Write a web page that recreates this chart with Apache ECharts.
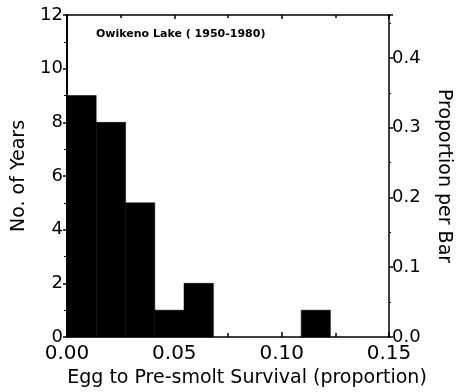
<!DOCTYPE html>
<html>
<head>
<meta charset="utf-8">
<script src="https://cdn.jsdelivr.net/npm/echarts@6/dist/echarts.min.js"></script>
<style>
html,body{margin:0;padding:0;background:#fff;}
#chart{width:456px;height:392px;}
</style>
</head>
<body>
<div id="chart"></div>
<script>
// Histogram bins (egg to pre-smolt survival, proportion)
var binStart = [0.0000, 0.0136, 0.0273, 0.0409, 0.0545, 0.0682, 0.0818, 0.0955, 0.1091];
var binEnd   = [0.0136, 0.0273, 0.0409, 0.0545, 0.0682, 0.0818, 0.0955, 0.1091, 0.1227];
var counts   = [9, 8, 5, 1, 2, 0, 0, 0, 1];
var totalYears = 26;
var xTicks = [0.00, 0.05, 0.10, 0.15];
var countTicks = [0, 2, 4, 6, 8, 10, 12];
var propTicks = [0.0, 0.1, 0.2, 0.3, 0.4];

var FONT = 'DejaVu Sans';
var data = binStart.map(function (s, i) { return [s, binEnd[i], counts[i]]; })
  .filter(function (d) { return d[2] > 0; });

var chart = echarts.init(document.getElementById('chart'), null, {renderer: 'canvas'});
var lineStyle = {color: '#000', width: 1.5};
chart.setOption({
  backgroundColor: '#fff',
  animation: false,
  title: {
    text: 'Owikeno Lake ( 1950-1980)',
    left: 91, top: 24,
    textStyle: {fontFamily: FONT, fontSize: 11, fontWeight: 'bold', color: '#000'}
  },
  grid: {left: 67, right: 67, top: 15, bottom: 55, containLabel: false, outerBoundsMode: 'none'},
  xAxis: [{
    type: 'value', min: xTicks[0], max: xTicks[xTicks.length - 1], interval: 0.05,
    position: 'bottom',
    name: 'Egg to Pre-smolt Survival (proportion)', nameLocation: 'middle', nameGap: 27,
    nameTextStyle: {fontFamily: FONT, fontSize: 19, color: '#000', padding: [0, 0, 0, 38]},
    axisLine: {show: true, onZero: false, lineStyle: lineStyle},
    axisTick: {show: true, inside: true, length: 5, lineStyle: {color: '#000', width: 1.5}},
    minorTick: {show: true, splitNumber: 2, length: 4, lineStyle: {color: '#000', width: 1.5}},
    splitLine: {show: false},
    axisLabel: {fontFamily: FONT, fontSize: 20, color: '#000', margin: 7,
      formatter: function (v) { return v.toFixed(2); }}
  }, {
    type: 'value', min: xTicks[0], max: xTicks[xTicks.length - 1], interval: 0.05,
    position: 'top',
    axisLine: {show: true, onZero: false, lineStyle: lineStyle},
    axisTick: {show: true, inside: true, length: 4, lineStyle: {color: '#000', width: 1.5}},
    minorTick: {show: true, splitNumber: 2, length: 3, lineStyle: {color: '#000', width: 1.5}},
    splitLine: {show: false},
    axisLabel: {show: false}
  }],
  yAxis: [{
    type: 'value', min: countTicks[0], max: countTicks[countTicks.length - 1], interval: 2,
    position: 'left',
    name: 'No. of Years', nameLocation: 'middle', nameGap: 38,
    nameTextStyle: {fontFamily: FONT, fontSize: 19, color: '#000'},
    axisLine: {show: true, onZero: false, lineStyle: {color: '#000', width: 2}},
    axisTick: {show: true, inside: false, length: 4, lineStyle: {color: '#000', width: 1.5}},
    minorTick: {show: true, splitNumber: 2, length: 3, lineStyle: {color: '#000', width: 1}},
    splitLine: {show: false},
    axisLabel: {fontFamily: FONT, fontSize: 18, color: '#000', margin: 4}
  }, {
    type: 'value', min: 0, max: countTicks[countTicks.length - 1] / totalYears, interval: 0.1,
    position: 'right',
    name: 'Proportion per Bar', nameLocation: 'middle', nameGap: 45, nameRotate: -90,
    nameTextStyle: {fontFamily: FONT, fontSize: 19, color: '#000'},
    axisLine: {show: true, onZero: false, lineStyle: lineStyle},
    axisTick: {show: true, inside: false, length: 4, lineStyle: {color: '#000', width: 1.5}},
    minorTick: {show: true, splitNumber: 2, length: 2, lineStyle: {color: '#000', width: 1}},
    splitLine: {show: false},
    axisLabel: {fontFamily: FONT, fontSize: 18, color: '#000', margin: 3, showMaxLabel: false,
      formatter: function (v) { return v.toFixed(1); }}
  }],
  series: [{
    type: 'custom',
    xAxisIndex: 0, yAxisIndex: 0,
    data: data,
    encode: {x: [0, 1], y: 2},
    renderItem: function (params, api) {
      var p0 = api.coord([api.value(0), api.value(2)]);
      var p1 = api.coord([api.value(1), 0]);
      return {
        type: 'rect',
        shape: {x: p0[0], y: p0[1], width: p1[0] - p0[0], height: p1[1] - p0[1]},
        style: {fill: '#000', stroke: '#000', lineWidth: 0.5}
      };
    }
  }]
});
</script>
</body>
</html>
